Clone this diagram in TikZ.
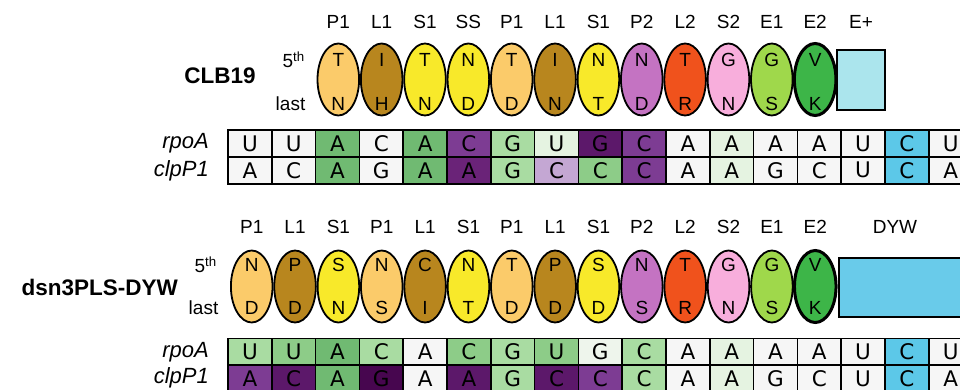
\documentclass[tikz,border=0pt]{standalone}
\usepackage{fontspec}
\setmainfont{Liberation Sans}
\newfontfamily\cellfont{DejaVu Sans}
\usetikzlibrary{shapes.geometric}

% repeat-type colours
\definecolor{cP1}{HTML}{FBCB6A}
\definecolor{cL1}{HTML}{B8861E}
\definecolor{cS1}{HTML}{F8E92A}
\definecolor{cP2}{HTML}{C473C2}
\definecolor{cL2}{HTML}{F0521C}
\definecolor{cS2}{HTML}{F8AEDC}
\definecolor{cE1}{HTML}{9FD84B}
\definecolor{cE2}{HTML}{3DB548}
\definecolor{cEp}{HTML}{ABE5ED}
\definecolor{cDYW}{HTML}{69CBEA}
% nucleotide cell colours
\definecolor{w}{HTML}{F6F6F6}
\definecolor{gw}{HTML}{EEF5EC}
\definecolor{g0}{HTML}{E5F3E1}
\definecolor{g1}{HTML}{A9DCA2}
\definecolor{g2}{HTML}{8DCC88}
\definecolor{g3}{HTML}{70BA72}
\definecolor{p1}{HTML}{C4A7D3}
\definecolor{p2}{HTML}{7D3C93}
\definecolor{p3}{HTML}{6A2378}
\definecolor{p4}{HTML}{5C186A}
\definecolor{p5}{HTML}{47064F}
\definecolor{cy}{HTML}{5CC8E8}

\begin{document}
\begin{tikzpicture}[x=1pt,y=-1pt,
  oval/.style={ellipse, draw, line width=1.8pt, minimum width=41.6pt,
    minimum height=72pt, inner sep=0pt},
  aa/.style={font=\fontsize{19}{21}\selectfont, inner sep=0pt},
  hdr/.style={font=\fontsize{19}{21}\selectfont, inner sep=0pt},
  title/.style={font=\bfseries\fontsize{22.5}{24}\selectfont, inner sep=0pt},
  seqname/.style={font=\itshape\fontsize{22}{24}\selectfont, inner sep=0pt, anchor=east},
  posmark/.style={font=\fontsize{19}{21}\selectfont, inner sep=0pt, anchor=east},
  dombox/.style={draw, line width=2pt, inner sep=0pt},
  cell/.style={draw, line width=1.6pt, minimum width=43.8pt, minimum height=26.8pt,
    inner sep=0pt, font=\cellfont\fontsize{21.5}{23}\selectfont}]
\useasboundingbox (0,0) rectangle (960,390);
\clip (0,0) rectangle (960,390);

% ---------------- CLB19 ----------------
\node[title] (clb) at (220,76) {CLB19};
\node[posmark] (clb5) at (305,60) {5\textsuperscript{th}};
\node[posmark] (clbl) at (305.5,103.5) {last};
\foreach [count=\i] \t/\a/\b/\c in
  {P1/T/N/cP1, L1/I/H/cL1, S1/T/N/cS1, SS/N/D/cS1, P1/T/D/cP1, L1/I/N/cL1,
   S1/N/T/cS1, P2/N/D/cP2, L2/T/R/cL2, S2/G/N/cS2, E1/G/S/cE1, E2/V/K/cE2} {
  \pgfmathsetmacro\x{338.3+(\i-1)*43.35}
  \node[hdr] (ch\i) at (\x,21.7) {\t};
  \node[oval, fill=\c] (ce\i) at (\x,79.5) {};
  \node[aa] (ct\i) at (\x,60) {\a};
  \node[aa] (cb\i) at (\x,103.5) {\b};
}
\draw[line width=3pt] (ce12) ellipse [x radius=20.8pt, y radius=36pt];
\node[dombox, fill=cEp, minimum width=48pt, minimum height=60pt] (ceplus) at (861,80.5) {};
\node[hdr] (ceplusl) at (861,21.7) {E+};

% ---------------- target sequences (top) ----------------
\node[seqname] (ra1) at (209,143.5) {rpoA};
\node[seqname] (cl1) at (209,170.5) {clpP1};
\foreach [count=\i] \n/\c in {U/w, U/w, A/g3, C/w, A/g3, C/p2, G/g1, U/g0, G/p4,
   C/p2, A/w, A/g0, A/w, A/w, U/w, C/cy, U/w} {
  \pgfmathsetmacro\x{228+(\i-0.5)*43.8}
  \node[cell, fill=\c] (r1c\i) at (\x,143.5) {\n};
}
\foreach [count=\i] \n/\c in {A/w, C/w, A/g3, G/w, A/g3, A/p3, G/g1, C/p1, C/g2,
   C/p2, A/w, A/g0, G/w, C/w, U/w, C/cy, A/w} {
  \pgfmathsetmacro\x{228+(\i-0.5)*43.8}
  \node[cell, fill=\c] (s1c\i) at (\x,170.3) {\n};
}

% ---------------- dsn3PLS-DYW ----------------
\node[title, anchor=east] (dsn) at (178,287) {dsn3PLS-DYW};
\node[posmark] (dsn5) at (217,265) {5\textsuperscript{th}};
\node[posmark] (dsnl) at (218.5,307.5) {last};
\foreach [count=\i] \t/\a/\b/\c in
  {P1/N/D/cP1, L1/P/D/cL1, S1/S/N/cS1, P1/N/S/cP1, L1/C/I/cL1, S1/N/T/cS1,
   P1/T/D/cP1, L1/P/D/cL1, S1/S/D/cS1, P2/N/S/cP2, L2/T/R/cL2, S2/G/N/cS2,
   E1/G/S/cE1, E2/V/K/cE2} {
  \pgfmathsetmacro\x{251.7+(\i-1)*43.35}
  \node[hdr] (dh\i) at (\x,226.7) {\t};
  \node[oval, fill=\c] (de\i) at (\x,286.5) {};
  \node[aa] (dt\i) at (\x,265) {\a};
  \node[aa] (db\i) at (\x,307.5) {\b};
}
\draw[line width=3pt] (de14) ellipse [x radius=20.8pt, y radius=36pt];
\node[dombox, fill=cDYW, anchor=north west, minimum width=140pt, minimum height=59pt]
  (ddyw) at (838,256.7) {};
\node[hdr] (ddywl) at (895,226.7) {DYW};

% ---------------- target sequences (bottom) ----------------
\node[seqname] (ra2) at (209,352) {rpoA};
\node[seqname] (cl2) at (209,378) {clpP1};
\foreach [count=\i] \n/\c in {U/g1, U/g2, A/g3, C/g1, A/w, C/g2, G/g1, U/g2, G/gw,
   C/g1, A/w, A/g0, A/w, A/w, U/w, C/cy, U/w} {
  \pgfmathsetmacro\x{228+(\i-0.5)*43.8}
  \node[cell, fill=\c] (r2c\i) at (\x,352) {\n};
}
\foreach [count=\i] \n/\c in {A/p2, C/p4, A/g3, G/p5, A/w, A/p4, G/g1, C/p4, C/p2,
   C/g1, A/w, A/g0, G/w, C/w, U/w, C/cy, A/w} {
  \pgfmathsetmacro\x{228+(\i-0.5)*43.8}
  \node[cell, fill=\c] (s2c\i) at (\x,378.5) {\n};
}
\end{tikzpicture}
\end{document}
